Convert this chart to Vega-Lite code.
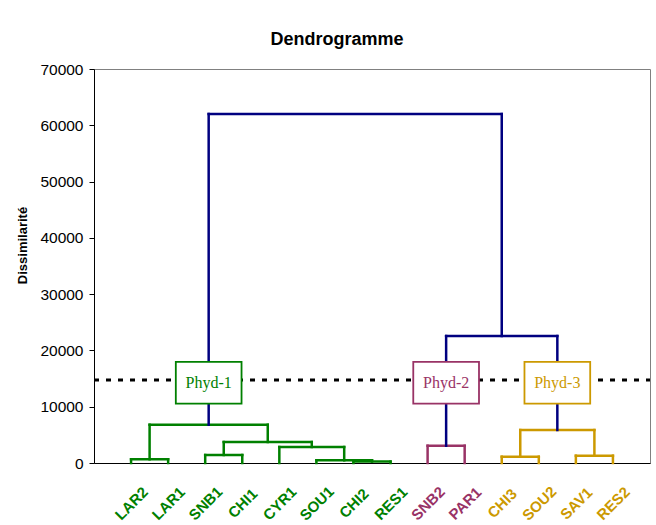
{
  "$schema": "https://vega.github.io/schema/vega-lite/v6.json",
  "width": 556,
  "height": 394,
  "autosize": {"type": "none"},
  "padding": {"left": 94, "top": 69, "right": 6, "bottom": 62},
  "background": "white",
  "config": {"view": {"stroke": "#808080", "strokeWidth": 1}, "font": "Liberation Sans"},
  "title": {"text": "Dendrogramme", "fontSize": 18, "fontWeight": "bold", "font": "Liberation Sans", "color": "black", "offset": -1, "baseline": "alphabetic", "dx": -35, "anchor": "middle"},
  "datasets": {
    "segments": [
      {"x": 1, "x2": 1, "y": 0, "y2": 660, "g": "Phyd-1"},
      {"x": 2, "x2": 2, "y": 0, "y2": 660, "g": "Phyd-1"},
      {"x": 1, "x2": 2, "y": 660, "y2": 660, "g": "Phyd-1"},
      {"x": 3, "x2": 3, "y": 0, "y2": 1420, "g": "Phyd-1"},
      {"x": 4, "x2": 4, "y": 0, "y2": 1420, "g": "Phyd-1"},
      {"x": 3, "x2": 4, "y": 1420, "y2": 1420, "g": "Phyd-1"},
      {"x": 7, "x2": 7, "y": 0, "y2": 250, "g": "Phyd-1"},
      {"x": 8, "x2": 8, "y": 0, "y2": 250, "g": "Phyd-1"},
      {"x": 7, "x2": 8, "y": 250, "y2": 250, "g": "Phyd-1"},
      {"x": 6, "x2": 6, "y": 0, "y2": 480, "g": "Phyd-1"},
      {"x": 7.5, "x2": 7.5, "y": 250, "y2": 480, "g": "Phyd-1"},
      {"x": 6, "x2": 7.5, "y": 480, "y2": 480, "g": "Phyd-1"},
      {"x": 5, "x2": 5, "y": 0, "y2": 2840, "g": "Phyd-1"},
      {"x": 6.75, "x2": 6.75, "y": 480, "y2": 2840, "g": "Phyd-1"},
      {"x": 5, "x2": 6.75, "y": 2840, "y2": 2840, "g": "Phyd-1"},
      {"x": 3.5, "x2": 3.5, "y": 1420, "y2": 3730, "g": "Phyd-1"},
      {"x": 5.875, "x2": 5.875, "y": 2840, "y2": 3730, "g": "Phyd-1"},
      {"x": 3.5, "x2": 5.875, "y": 3730, "y2": 3730, "g": "Phyd-1"},
      {"x": 1.5, "x2": 1.5, "y": 660, "y2": 6800, "g": "Phyd-1"},
      {"x": 4.6875, "x2": 4.6875, "y": 3730, "y2": 6800, "g": "Phyd-1"},
      {"x": 1.5, "x2": 4.6875, "y": 6800, "y2": 6800, "g": "Phyd-1"},
      {"x": 9, "x2": 9, "y": 0, "y2": 3070, "g": "Phyd-2"},
      {"x": 10, "x2": 10, "y": 0, "y2": 3070, "g": "Phyd-2"},
      {"x": 9, "x2": 10, "y": 3070, "y2": 3070, "g": "Phyd-2"},
      {"x": 11, "x2": 11, "y": 0, "y2": 1120, "g": "Phyd-3"},
      {"x": 12, "x2": 12, "y": 0, "y2": 1120, "g": "Phyd-3"},
      {"x": 11, "x2": 12, "y": 1120, "y2": 1120, "g": "Phyd-3"},
      {"x": 13, "x2": 13, "y": 0, "y2": 1300, "g": "Phyd-3"},
      {"x": 14, "x2": 14, "y": 0, "y2": 1300, "g": "Phyd-3"},
      {"x": 13, "x2": 14, "y": 1300, "y2": 1300, "g": "Phyd-3"},
      {"x": 11.5, "x2": 11.5, "y": 1120, "y2": 5860, "g": "Phyd-3"},
      {"x": 13.5, "x2": 13.5, "y": 1300, "y2": 5860, "g": "Phyd-3"},
      {"x": 11.5, "x2": 13.5, "y": 5860, "y2": 5860, "g": "Phyd-3"},
      {"x": 3.09375, "x2": 3.09375, "y": 6800, "y2": 62000, "g": "link"},
      {"x": 9.5, "x2": 9.5, "y": 3070, "y2": 22560, "g": "link"},
      {"x": 12.5, "x2": 12.5, "y": 5860, "y2": 22560, "g": "link"},
      {"x": 9.5, "x2": 12.5, "y": 22560, "y2": 22560, "g": "link"},
      {"x": 11, "x2": 11, "y": 22560, "y2": 62000, "g": "link"},
      {"x": 3.09375, "x2": 11, "y": 62000, "y2": 62000, "g": "link"}
    ],
    "cut": [{"x": 0, "x2": 15, "y": 14750}],
    "boxes": [
      {"label": "Phyd-1", "x": 3.09375, "y": 14250, "g": "Phyd-1"},
      {"label": "Phyd-2", "x": 9.5, "y": 14250, "g": "Phyd-2"},
      {"label": "Phyd-3", "x": 12.5, "y": 14250, "g": "Phyd-3"}
    ]
  },
  "encoding": {
    "x": {
      "field": "x", "type": "quantitative",
      "scale": {"domain": [0, 15], "nice": false, "zero": false},
      "axis": {
        "title": null, "values": [1, 2, 3, 4, 5, 6, 7, 8, 9, 10, 11, 12, 13, 14],
        "labelExpr": "['', 'LAR2', 'LAR1', 'SNB1', 'CHI1', 'CYR1', 'SOU1', 'CHI2', 'RES1', 'SNB2', 'PAR1', 'CHI3', 'SOU2', 'SAV1', 'RES2'][datum.value]",
        "ticks": false, "tickSize": 0, "grid": false, "domainColor": "black", "domainWidth": 1,
        "labelAngle": -45, "labelAlign": "center", "labelBaseline": "middle", "labelPadding": 40,
        "labelFontSize": 15, "labelFontWeight": "bold", "labelFont": "Liberation Sans",
        "labelOverlap": false, "labelBound": false, "labelFlush": false,
        "labelColor": {"condition": [{"test": "datum.value <= 8", "value": "#008000"}, {"test": "datum.value <= 10", "value": "#993366"}], "value": "#CC9900"}
      }
    },
    "y": {
      "field": "y", "type": "quantitative",
      "scale": {"domain": [0, 70000], "nice": false},
      "axis": {
        "title": "Dissimilarité", "values": [0, 10000, 20000, 30000, 40000, 50000, 60000, 70000], "format": "d",
        "grid": false, "tickSize": 5, "tickColor": "black", "domainColor": "black", "domainWidth": 1,
        "labelPadding": 6, "labelFontSize": 15.5, "labelColor": "black", "labelFont": "Liberation Sans",
        "titleFont": "Liberation Sans", "titleFontSize": 13, "titleFontWeight": "bold", "titleColor": "black",
        "titleX": -72, "titleY": 176, "titleAngle": -90, "titleAlign": "center", "titleBaseline": "middle"
      }
    }
  },
  "layer": [
    {
      "data": {"name": "segments"},
      "mark": {"type": "rule", "strokeWidth": 2.5, "strokeCap": "square"},
      "encoding": {
        "x2": {"field": "x2"},
        "y2": {"field": "y2"},
        "color": {"field": "g", "type": "nominal", "scale": {"domain": ["Phyd-1", "Phyd-2", "Phyd-3", "link"], "range": ["#008000", "#993366", "#CC9900", "#000080"]}, "legend": null}
      }
    },
    {
      "data": {"name": "cut"},
      "mark": {"type": "rule", "color": "black", "strokeWidth": 3, "strokeDash": [5, 7]},
      "encoding": {"x2": {"field": "x2"}}
    },
    {
      "data": {"name": "boxes"},
      "mark": {"type": "point", "shape": "M-1,-0.635H1V0.635H-1Z", "size": 4320, "filled": true, "fill": "white", "strokeWidth": 1.8, "opacity": 1},
      "encoding": {
        "stroke": {"field": "g", "type": "nominal", "scale": {"domain": ["Phyd-1", "Phyd-2", "Phyd-3", "link"], "range": ["#008000", "#993366", "#CC9900", "#000080"]}, "legend": null}
      }
    },
    {
      "data": {"name": "boxes"},
      "mark": {"type": "text", "font": "Liberation Serif", "fontSize": 16, "baseline": "middle", "align": "center"},
      "encoding": {
        "text": {"field": "label"},
        "color": {"field": "g", "type": "nominal", "scale": {"domain": ["Phyd-1", "Phyd-2", "Phyd-3", "link"], "range": ["#008000", "#993366", "#CC9900", "#000080"]}, "legend": null}
      }
    }
  ]
}
